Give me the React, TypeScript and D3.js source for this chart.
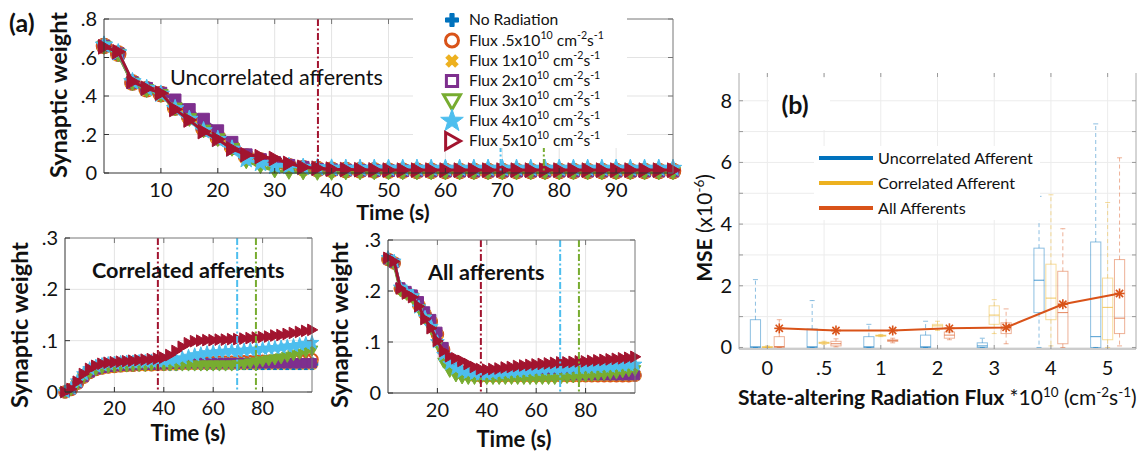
import React from "react";
import * as d3 from "d3";

// ---------------- DATA ----------------
const TIME = [0,2.5,5,7.5,10,12.5,15,17.5,20,22.5,25,27.5,30,32.5,35,37.5,40,42.5,45,47.5,50,52.5,55,57.5,60,62.5,65,67.5,70,72.5,75,77.5,80,82.5,85,87.5,90,92.5,95,97.5,100];

const SERIES_LABELS = ["No Radiation", ".5", "1", "2", "3", "4", "5"];
const SERIES_COLORS = ["#0072BD", "#D95319", "#EDB120", "#7E2F8E", "#77AC30", "#4DBEEE", "#A2142F"];
const SERIES_MARKERS = ["plus", "circle", "times", "square", "triDown", "star", "triRight"];

// Uncorrelated afferents
const UNC_BASE = [0.66,0.62,0.47,0.435,0.41,0.34,0.29,0.23,0.185,0.135,0.085,0.065,0.05,0.035,0.025,0.02,0.017,0.015,0.014,0.013,0.012,0.012,0.011,0.011,0.01,0.01,0.01,0.01,0.01,0.01,0.01,0.01,0.01,0.01,0.01,0.01,0.01,0.01,0.01,0.01,0.01];
const UNC_F2 = [0.66,0.62,0.47,0.44,0.415,0.38,0.33,0.28,0.22,0.16,0.095,0.07,0.055,0.04,0.03,0.02,0.017,0.015,0.014,0.013,0.012,0.012,0.011,0.011,0.01,0.01,0.01,0.01,0.01,0.01,0.01,0.01,0.01,0.01,0.01,0.01,0.01,0.01,0.01,0.01,0.01];
const UNC_F3 = [0.655,0.615,0.465,0.43,0.405,0.335,0.28,0.22,0.175,0.125,0.06,0.035,0.012,0.005,0.002,0,0,0.002,0.002,0.002,0.002,0.002,0.002,0.002,0.002,0.002,0.002,0.002,0.002,0.002,0.002,0.002,0.002,0.002,0.002,0.002,0.002,0.002,0.002,0.002,0.002];
const UNC_F4 = [0.665,0.625,0.475,0.44,0.41,0.335,0.28,0.22,0.175,0.125,0.07,0.05,0.035,0.035,0.03,0.028,0.026,0.025,0.025,0.025,0.025,0.025,0.025,0.025,0.025,0.025,0.025,0.025,0.025,0.025,0.025,0.025,0.025,0.025,0.025,0.025,0.025,0.025,0.025,0.025,0.025];
const UNC_F5 = [0.655,0.63,0.475,0.44,0.415,0.33,0.275,0.215,0.175,0.125,0.095,0.085,0.075,0.05,0.03,0.025,0.02,0.018,0.017,0.016,0.015,0.015,0.015,0.015,0.015,0.015,0.015,0.015,0.015,0.015,0.015,0.015,0.015,0.015,0.015,0.015,0.015,0.015,0.015,0.015,0.015];

// Correlated afferents
const COR_BASE = [0,0.005,0.017,0.029,0.038,0.044,0.047,0.049,0.05,0.051,0.052,0.052,0.053,0.053,0.053,0.054,0.054,0.054,0.054,0.055,0.055,0.055,0.055,0.055,0.055,0.055,0.055,0.055,0.055,0.055,0.055,0.055,0.055,0.055,0.055,0.055,0.055,0.055,0.055,0.055,0.055];
const COR_F05 = [0,0.005,0.017,0.029,0.038,0.044,0.047,0.049,0.05,0.051,0.052,0.052,0.053,0.053,0.053,0.054,0.054,0.055,0.055,0.056,0.056,0.056,0.057,0.057,0.057,0.058,0.058,0.058,0.059,0.059,0.059,0.06,0.06,0.06,0.061,0.061,0.061,0.062,0.062,0.062,0.063];
const COR_F2 = [0,0.005,0.017,0.029,0.038,0.044,0.047,0.049,0.05,0.051,0.052,0.052,0.053,0.053,0.053,0.054,0.054,0.055,0.055,0.056,0.056,0.056,0.056,0.056,0.056,0.056,0.056,0.056,0.056,0.056,0.056,0.056,0.056,0.056,0.056,0.056,0.056,0.056,0.056,0.056,0.056];
const COR_F3 = [0,0.004,0.016,0.028,0.037,0.043,0.046,0.048,0.049,0.05,0.05,0.051,0.051,0.051,0.052,0.052,0.052,0.052,0.052,0.052,0.052,0.052,0.052,0.052,0.052,0.052,0.052,0.052,0.053,0.054,0.056,0.058,0.06,0.062,0.064,0.066,0.069,0.072,0.075,0.078,0.081];
const COR_F4 = [0,0.007,0.021,0.035,0.045,0.05,0.053,0.055,0.056,0.057,0.058,0.058,0.059,0.059,0.06,0.06,0.06,0.061,0.063,0.066,0.069,0.072,0.074,0.076,0.077,0.078,0.079,0.08,0.08,0.081,0.082,0.083,0.084,0.085,0.086,0.087,0.089,0.09,0.092,0.094,0.096];
const COR_F5 = [0,0.006,0.02,0.035,0.045,0.051,0.055,0.057,0.058,0.059,0.06,0.061,0.062,0.063,0.064,0.065,0.067,0.072,0.08,0.088,0.095,0.099,0.1,0.101,0.101,0.102,0.102,0.103,0.103,0.104,0.105,0.106,0.107,0.108,0.11,0.111,0.113,0.115,0.117,0.119,0.121];

// All afferents
const ALL_BASE = [0.262,0.255,0.205,0.197,0.19,0.172,0.155,0.14,0.115,0.085,0.06,0.048,0.04,0.037,0.035,0.034,0.034,0.034,0.034,0.034,0.034,0.034,0.034,0.034,0.034,0.034,0.034,0.034,0.034,0.034,0.034,0.034,0.034,0.034,0.034,0.034,0.034,0.034,0.034,0.034,0.035];
const ALL_F2 = [0.262,0.255,0.207,0.2,0.193,0.18,0.16,0.145,0.12,0.09,0.062,0.05,0.042,0.038,0.036,0.035,0.035,0.035,0.035,0.035,0.035,0.035,0.035,0.035,0.035,0.035,0.035,0.035,0.035,0.035,0.035,0.035,0.035,0.035,0.035,0.035,0.035,0.035,0.035,0.035,0.035];
const ALL_F3 = [0.26,0.252,0.2,0.193,0.185,0.165,0.145,0.125,0.095,0.06,0.042,0.033,0.029,0.028,0.028,0.028,0.028,0.028,0.028,0.028,0.028,0.028,0.028,0.028,0.028,0.028,0.028,0.028,0.029,0.03,0.031,0.032,0.033,0.034,0.035,0.036,0.038,0.039,0.041,0.043,0.045];
const ALL_F4 = [0.265,0.258,0.207,0.198,0.19,0.168,0.148,0.13,0.1,0.075,0.057,0.048,0.042,0.04,0.038,0.037,0.037,0.038,0.039,0.04,0.041,0.042,0.043,0.044,0.045,0.046,0.047,0.047,0.048,0.048,0.049,0.049,0.05,0.05,0.051,0.052,0.052,0.053,0.054,0.055,0.056];
const ALL_F5 = [0.265,0.258,0.205,0.195,0.188,0.17,0.145,0.127,0.102,0.082,0.072,0.068,0.063,0.057,0.051,0.047,0.046,0.047,0.048,0.05,0.051,0.053,0.054,0.055,0.056,0.057,0.058,0.059,0.06,0.06,0.061,0.062,0.062,0.063,0.064,0.065,0.066,0.067,0.068,0.069,0.071];

// threshold times (flux 5, flux 4, flux 3)
const THRESH_TIMES = [37.6, 69.7, 77.3];
const THRESH_COLORS = ["#A2142F", "#4DBEEE", "#77AC30"];

// Panel (b)
const FLUX_LABELS = ["0", ".5", "1", "2", "3", "4", "5"];
// [whiskerLow, q1, median, q3, whiskerHigh]
const BOX_UNC = [[0,0,0.02,0.9,2.2],[0,0,0.02,0.6,1.52],[0,0,0.02,0.35,0.75],[0,0,0.02,0.4,0.85],[0,0,0.05,0.15,0.3],[0,1.13,2.18,3.22,4.9],[0,0,0.35,3.42,7.25]];
const BOX_COR = [[0,0,0.01,0.03,0.05],[0.1,0.13,0.15,0.17,0.2],[0.35,0.37,0.38,0.4,0.42],[0.55,0.6,0.7,0.75,0.85],[0.45,0.75,1.05,1.35,1.55],[0.05,0.9,1.6,2.7,4.95],[0,0.25,1.3,2.25,4.7]];
const BOX_ALL = [[0,0,0.03,0.35,0.9],[0.02,0.05,0.12,0.2,0.28],[0.15,0.2,0.22,0.25,0.3],[0.25,0.3,0.4,0.5,0.6],[0.12,0.45,0.6,0.8,1.25],[0,0.12,1.13,2.47,3.85],[0.05,0.45,0.95,2.85,6.15]];
const MEAN_ALL = [0.62, 0.55, 0.55, 0.62, 0.65, 1.4, 1.75];
const B_LEGEND = ["Uncorrelated Afferent", "Correlated Afferent", "All Afferents"];
const B_COLORS = ["#0072BD", "#EDB120", "#D95319"];

// ---------------- HELPERS ----------------
const FONT = "Lato, 'Open Sans', sans-serif";

function starPath(R: number) {
  const r = R * 0.4;
  let d = "";
  for (let k = 0; k < 10; k++) {
    const rad = k % 2 === 0 ? R : r;
    const a = -Math.PI / 2 + (k * Math.PI) / 5;
    d += (k === 0 ? "M" : "L") + (rad * Math.cos(a)).toFixed(2) + "," + (rad * Math.sin(a)).toFixed(2);
  }
  return d + "Z";
}
function plusPath(r: number) {
  const a = r * 0.32;
  return `M${-a},${-r}H${a}V${-a}H${r}V${a}H${a}V${r}H${-a}V${a}H${-r}V${-a}H${-a}Z`;
}
function markerPath(kind: string, r: number) {
  switch (kind) {
    case "plus": return plusPath(r);
    case "times": return plusPath(r);
    case "circle": return `M${r},0A${r},${r} 0 1,1 ${-r},0A${r},${r} 0 1,1 ${r},0Z`;
    case "square": { const s = r * 0.8; return `M${-s},${-s}H${s}V${s}H${-s}Z`; }
    case "triDown": return `M${-r},${-r * 0.75}L${r},${-r * 0.75}L0,${r}Z`;
    case "triRight": return `M${-r * 0.75},${-r}L${r},0L${-r * 0.75},${r}Z`;
    case "star": return starPath(r * 1.25);
    default: return "";
  }
}

function fmtTick(v: number) {
  if (v === 0) return "0";
  return String(+v.toFixed(2)).replace(/^0\./, ".");
}

type PanelProps = {
  x0: number; x1: number; y0: number; y1: number;
  yMax: number; yTicks: number[]; xTicks: number[];
  series: number[][]; mr: number; tickDy: number;
};

function PanelA({ x0, x1, y0, y1, yMax, yTicks, xTicks, series, mr, tickDy }: PanelProps) {
  const x = d3.scaleLinear().domain([0, 100]).range([x0, x1]);
  const y = d3.scaleLinear().domain([0, yMax]).range([y1, y0]);
  const line = d3.line<number>().x((_, i) => x(TIME[i])).y((v) => y(v));
  return (
    <g>
      {xTicks.map((t) => (
        <line key={"gx" + t} x1={x(t)} x2={x(t)} y1={y0} y2={y1} stroke="#e3e3e3" strokeWidth={1} />
      ))}
      {yTicks.filter((t) => t > 0 && t < yMax).map((t) => (
        <line key={"gy" + t} x1={x0} x2={x1} y1={y(t)} y2={y(t)} stroke="#e3e3e3" strokeWidth={1} />
      ))}
      {series.map((s, si) => (
        <g key={"s" + si}>
          <path d={line(s) || ""} fill="none" stroke={SERIES_COLORS[si]} strokeWidth={3} />
          {s.map((v, i) => {
            const kind = SERIES_MARKERS[si];
            const isCircle = kind === "circle";
            return (
              <path
                key={i}
                d={markerPath(kind, mr)}
                transform={`translate(${x(TIME[i])},${y(v)})${kind === "times" ? " rotate(45)" : ""}`}
                fill={isCircle ? "none" : SERIES_COLORS[si]}
                stroke={SERIES_COLORS[si]}
                strokeWidth={isCircle ? 2 : 1}
              />
            );
          })}
        </g>
      ))}
      {THRESH_TIMES.map((t, i) => (
        <line key={"th" + i} x1={x(t)} x2={x(t)} y1={y0} y2={y1} stroke={THRESH_COLORS[i]} strokeWidth={2} strokeDasharray="7,2.5,2,2.5" />
      ))}
      {/* box */}
      <line x1={x0} x2={x1} y1={y0} y2={y0} stroke="#777" strokeWidth={1} />
      <line x1={x1} x2={x1} y1={y0} y2={y1} stroke="#777" strokeWidth={1} />
      <line x1={x0} x2={x1} y1={y1} y2={y1} stroke="#333" strokeWidth={1} />
      <line x1={x0} x2={x0} y1={y0} y2={y1} stroke="#333" strokeWidth={1} />
      {xTicks.map((t) => (
        <g key={"tx" + t}>
          <line x1={x(t)} x2={x(t)} y1={y1} y2={y1 - 5} stroke="#333" />
          <line x1={x(t)} x2={x(t)} y1={y0} y2={y0 + 5} stroke="#777" />
          <text x={x(t)} y={y1 + tickDy} textAnchor="middle" fontSize={20} fill="#111">{fmtTick(t)}</text>
        </g>
      ))}
      {yTicks.map((t) => (
        <g key={"ty" + t}>
          <line x1={x0} x2={x0 + 5} y1={y(t)} y2={y(t)} stroke="#333" />
          <line x1={x1} x2={x1 - 5} y1={y(t)} y2={y(t)} stroke="#777" />
          <text x={x0 - 7} y={y(t) + 7} textAnchor="end" fontSize={20} fill="#111">{fmtTick(t)}</text>
        </g>
      ))}
    </g>
  );
}

function FluxText({ x, y, label, fs }: { x: number; y: number; label: string; fs: number }) {
  if (label === "No Radiation") {
    return <text x={x} y={y} fontSize={fs} fill="#111">No Radiation</text>;
  }
  const sup = fs * 0.68;
  const up = -fs * 0.42;
  return (
    <text x={x} y={y} fontSize={fs} fill="#111">
      {`Flux ${label}x10`}
      <tspan dy={up} fontSize={sup}>10</tspan>
      <tspan dy={-up}>{" cm"}</tspan>
      <tspan dy={up} fontSize={sup}>-2</tspan>
      <tspan dy={-up}>s</tspan>
      <tspan dy={up} fontSize={sup}>-1</tspan>
    </text>
  );
}

export default function App() {
  const uncSeries = [UNC_BASE, UNC_BASE, UNC_BASE, UNC_F2, UNC_F3, UNC_F4, UNC_F5];
  const corSeries = [COR_BASE, COR_F05, COR_BASE, COR_F2, COR_F3, COR_F4, COR_F5];
  const allSeries = [ALL_BASE, ALL_BASE, ALL_BASE, ALL_F2, ALL_F3, ALL_F4, ALL_F5];

  // panel (b)
  const xb = d3.scaleLinear().domain([-0.5, 6.5]).range([739, 1136]);
  const yb = d3.scaleLinear().domain([-0.05, 8.9]).range([349, 73]);
  const groups = [
    { data: BOX_UNC, color: B_COLORS[0], off: -0.21 },
    { data: BOX_COR, color: B_COLORS[1], off: 0 },
    { data: BOX_ALL, color: B_COLORS[2], off: 0.21 },
  ];
  const hw = 0.09;
  const meanLine = d3.line<number>().x((_, i) => xb(i + 0.21)).y((v) => yb(v));
  const bIntTicks = d3.range(0, 9);

  const legendRows = [20, 40.5, 61, 81, 101, 121, 141];

  return (
    <svg width={1146} height={452} style={{ position: "absolute", left: 0, top: 0, fontFamily: FONT }}>
      <rect x={0} y={0} width={1146} height={452} fill="#fff" />

      {/* ---------- panel (a) ---------- */}
      <text x={9} y={32} fontSize={25} fontWeight="bold" fill="#111">(a)</text>

      <PanelA x0={104} x1={673} y0={19} y1={173} yMax={0.8} yTicks={[0, 0.2, 0.4, 0.6, 0.8]} xTicks={[10, 20, 30, 40, 50, 60, 70, 80, 90]} series={uncSeries} mr={7.3} tickDy={24} />
      <text x={393} y={220} textAnchor="middle" fontSize={21.5} fontWeight="bold" fill="#111">Time (s)</text>
      <text x={170} y={85} fontSize={21.6} fill="#111">Uncorrelated afferents</text>
      <text transform="translate(67,95) rotate(-90)" textAnchor="middle" fontSize={23.5} fontWeight="bold" fill="#111">Synaptic weight</text>

      {/* legend of (a) */}
      <rect x={413} y={4} width={214} height={144} fill="#fff" />
      {SERIES_LABELS.map((lab, i) => {
        const kind = SERIES_MARKERS[i];
        const c = SERIES_COLORS[i];
        const hollow = kind === "circle" || kind === "square" || kind === "triDown" || kind === "triRight";
        const r = kind === "star" ? 9.5 : kind === "triDown" || kind === "triRight" ? 8.5 : kind === "square" ? 7 : 6.5;
        return (
          <g key={"lg" + i}>
            <path
              d={markerPath(kind, r)}
              transform={`translate(452,${legendRows[i]})${kind === "times" ? " rotate(45)" : ""}`}
              fill={hollow ? "#fff" : c}
              stroke={c}
              strokeWidth={hollow ? 3 : 1}
            />
            <FluxText x={469} y={legendRows[i] + 5} label={lab} fs={15.6} />
          </g>
        );
      })}

      <PanelA x0={65} x1={312} y0={238} y1={392} yMax={0.3} yTicks={[0, 0.1, 0.2, 0.3]} xTicks={[20, 40, 60, 80]} series={corSeries} mr={5.8} tickDy={23} />
      <text x={92} y={278} fontSize={21.6} fontWeight="bold" fill="#111">Correlated afferents</text>
      <text x={188} y={441} textAnchor="middle" fontSize={22} fontWeight="bold" fill="#111">Time (s)</text>
      <text transform="translate(28,325) rotate(-90)" textAnchor="middle" fontSize={23.5} fontWeight="bold" fill="#111">Synaptic weight</text>

      <PanelA x0={388} x1={635} y0={240} y1={393} yMax={0.3} yTicks={[0, 0.1, 0.2, 0.3]} xTicks={[20, 40, 60, 80]} series={allSeries} mr={5.8} tickDy={24} />
      <text x={428} y={280} fontSize={21.6} fontWeight="bold" fill="#111">All afferents</text>
      <text x={514} y={447} textAnchor="middle" fontSize={22} fontWeight="bold" fill="#111">Time (s)</text>
      <text transform="translate(348,325) rotate(-90)" textAnchor="middle" fontSize={23.5} fontWeight="bold" fill="#111">Synaptic weight</text>

      {/* ---------- panel (b) ---------- */}
      {bIntTicks.map((t) => (
        <line key={"bgy" + t} x1={739} x2={1136} y1={yb(t)} y2={yb(t)} stroke="#ececec" />
      ))}
      {FLUX_LABELS.map((_, i) => (
        <line key={"bgx" + i} x1={xb(i)} x2={xb(i)} y1={73} y2={349} stroke="#ececec" />
      ))}
      <rect x={769} y={78} width={61} height={52} fill="#fff" />
      <text x={795} y={114} textAnchor="middle" fontSize={25} fontWeight="bold" fill="#111">(b)</text>

      {groups.map((g, gi) => (
        <g key={"bg" + gi} stroke={g.color} strokeOpacity={0.45} fill="none" strokeWidth={1}>
          {g.data.map((b, i) => {
            const cx = xb(i + g.off);
            const l = xb(i + g.off - hw);
            const r = xb(i + g.off + hw);
            const [lo, q1, med, q3, hi] = b;
            return (
              <g key={i}>
                <line x1={cx} x2={cx} y1={yb(q3)} y2={yb(hi)} strokeDasharray="4,3" />
                <line x1={cx} x2={cx} y1={yb(q1)} y2={yb(lo)} strokeDasharray="4,3" />
                <line x1={cx - 2.5} x2={cx + 2.5} y1={yb(hi)} y2={yb(hi)} />
                <line x1={cx - 2.5} x2={cx + 2.5} y1={yb(lo)} y2={yb(lo)} />
                <rect x={l} y={yb(q3)} width={r - l} height={Math.max(0.5, yb(q1) - yb(q3))} />
                <line x1={l} x2={r} y1={yb(med)} y2={yb(med)} strokeOpacity={0.7} />
              </g>
            );
          })}
        </g>
      ))}
      <path d={meanLine(MEAN_ALL) || ""} fill="none" stroke="#D95319" strokeWidth={2} />
      {MEAN_ALL.map((v, i) => (
        <g key={"mk" + i} transform={`translate(${xb(i + 0.21)},${yb(v)})`} stroke="#D95319" strokeWidth={1.6}>
          <line x1={-5} x2={5} y1={0} y2={0} />
          <line x1={0} x2={0} y1={-5} y2={5} />
          <line x1={-3.6} x2={3.6} y1={-3.6} y2={3.6} />
          <line x1={-3.6} x2={3.6} y1={3.6} y2={-3.6} />
        </g>
      ))}

      {/* legend (b) */}
      <rect x={814} y={146} width={226} height={74} fill="#fff" />
      {B_LEGEND.map((lab, i) => (
        <g key={"bl" + i}>
          <line x1={819} x2={873} y1={158 + i * 25} y2={158 + i * 25} stroke={B_COLORS[i]} strokeWidth={4} />
          <text x={878} y={158 + i * 25 + 6} fontSize={16.2} fill="#111">{lab}</text>
        </g>
      ))}

      {/* axes (b) */}
      <line x1={739} x2={739} y1={73} y2={349} stroke="#aaa" />
      <line x1={1136} x2={1136} y1={73} y2={349} stroke="#aaa" />
      <line x1={739} x2={1136} y1={349} y2={349} stroke="#999" />
      {bIntTicks.map((t) => (
        <g key={"bty" + t}>
          <line x1={739} x2={743} y1={yb(t)} y2={yb(t)} stroke="#999" />
          <line x1={1136} x2={1132} y1={yb(t)} y2={yb(t)} stroke="#999" />
          {t % 2 === 0 && (
            <text x={732} y={yb(t) + 7} textAnchor="end" fontSize={20} fill="#111">{t}</text>
          )}
        </g>
      ))}
      {FLUX_LABELS.map((lab, i) => (
        <g key={"btx" + i}>
          <line x1={xb(i)} x2={xb(i)} y1={73} y2={77} stroke="#999" />
          <line x1={xb(i)} x2={xb(i)} y1={349} y2={345} stroke="#999" />
          <text x={xb(i)} y={375} textAnchor="middle" fontSize={20} fill="#111">{lab}</text>
        </g>
      ))}
      <text x={738} y={405} fontSize={21} fill="#111">
        <tspan fontWeight="bold">State-altering Radiation Flux</tspan>
        <tspan>{" *10"}</tspan>
        <tspan dy={-8} fontSize={13.5}>10</tspan>
        <tspan dy={8}>{" (cm"}</tspan>
        <tspan dy={-8} fontSize={13.5}>-2</tspan>
        <tspan dy={8}>s</tspan>
        <tspan dy={-8} fontSize={13.5}>-1</tspan>
        <tspan dy={8}>)</tspan>
      </text>
      <text transform="translate(712,228) rotate(-90)" textAnchor="middle" fontSize={21} fill="#111">
        <tspan fontWeight="bold">MSE</tspan>
        <tspan>{" (x10"}</tspan>
        <tspan dy={-8} fontSize={13.5}>-6</tspan>
        <tspan dy={8}>)</tspan>
      </text>
    </svg>
  );
}
